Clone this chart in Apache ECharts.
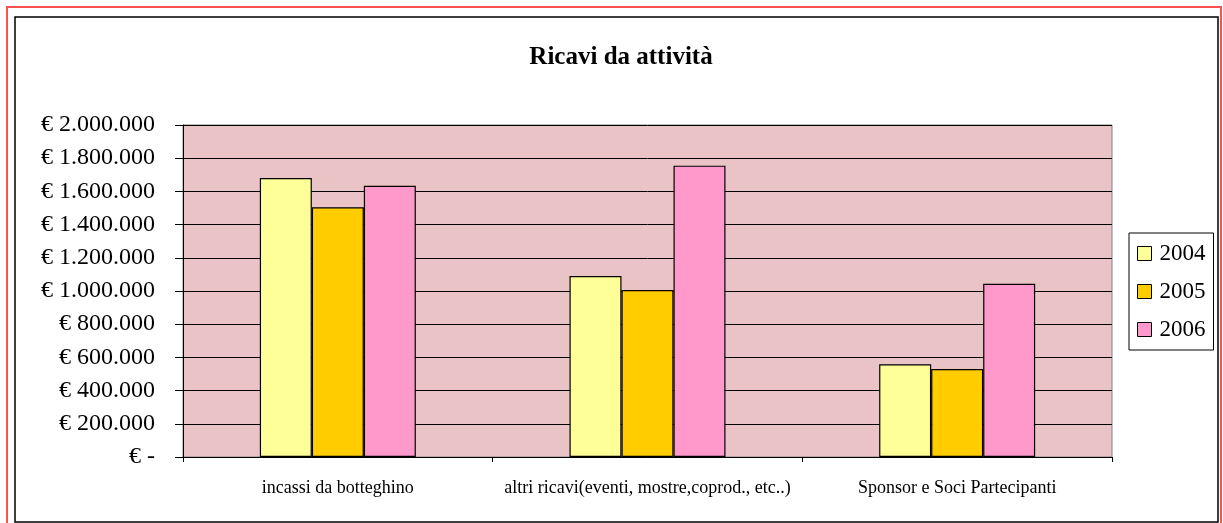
<!DOCTYPE html>
<html>
<head>
<meta charset="utf-8">
<script src="https://cdn.jsdelivr.net/npm/echarts@6/dist/echarts.min.js"></script>
<style>
  html, body { margin: 0; padding: 0; background: #fff; }
  #chart { width: 1223px; height: 523px; }
</style>
</head>
<body>
<div id="chart"></div>
<script>
const categories = ['incassi da botteghino', 'altri ricavi(eventi, mostre,coprod., etc..)', 'Sponsor e Soci Partecipanti']
const years = ['2004', '2005', '2006']
const values2004 = [1680000, 1090000, 558000]
const values2005 = [1504000, 1006000, 530000]
const values2006 = [1634000, 1755000, 1044000]
const yMax = 2000000
const yStep = 200000

const seriesData = [values2004, values2005, values2006]
const colors = ['#ffff99', '#ffcc00', '#ff99cc']
const fontFamily = '"Liberation Serif", "DejaVu Serif", serif'

const formatEuro = (v) => {
  if (v === 0) return '€ -'
  return '€ ' + String(v).replace(/\B(?=(\d{3})+(?!\d))/g, '.')
}

const chart = echarts.init(document.getElementById('chart'))

const option = {
  animation: false,
  backgroundColor: '#ffffff',
  textStyle: { fontFamily: fontFamily, color: '#000' },
  title: {
    text: 'Ricavi da attività',
    left: 616,
    top: 40,
    textAlign: 'center',
    textStyle: { fontFamily: fontFamily, fontSize: 25, fontWeight: 'bold', color: '#000' }
  },
  graphic: [
    {
      type: 'rect',
      shape: { x: 7, y: 7, width: 1214, height: 530 },
      style: { fill: 'none', stroke: '#ff5050', lineWidth: 2 },
      silent: true
    },
    {
      type: 'rect',
      shape: { x: 15, y: 17, width: 1203, height: 505 },
      style: { fill: 'none', stroke: '#000', lineWidth: 1.5 },
      silent: true
    }
  ],
  legend: {
    data: years,
    orient: 'vertical',
    left: 1129,
    top: 233,
    width: 84,
    height: 114,
    padding: [9, 8, 9, 8],
    itemGap: 15,
    itemWidth: 14,
    itemHeight: 14,
    icon: 'rect',
    borderColor: '#000',
    borderWidth: 1,
    backgroundColor: '#fff',
    itemStyle: { borderColor: '#000', borderWidth: 1 },
    textStyle: { fontFamily: fontFamily, fontSize: 23, color: '#000', lineHeight: 22, padding: [0, 0, 0, 3] }
  },
  grid: {
    left: 183,
    right: 111,
    top: 125,
    bottom: 66,
    show: true,
    backgroundColor: '#e9c3c6',
    borderColor: '#808080',
    borderWidth: 1
  },
  xAxis: {
    type: 'category',
    data: categories,
    axisLine: { show: true, lineStyle: { color: '#000', width: 1 } },
    axisTick: { show: true, length: 5, lineStyle: { color: '#000' } },
    axisLabel: { interval: 0, margin: 22, fontFamily: fontFamily, fontSize: 18, color: '#000' },
    splitLine: { show: false }
  },
  yAxis: {
    type: 'value',
    min: 0,
    max: yMax,
    interval: yStep,
    axisLine: { show: true, lineStyle: { color: '#000', width: 1 } },
    axisTick: { show: true, length: 8, lineStyle: { color: '#000' } },
    axisLabel: { margin: 28, fontFamily: fontFamily, fontSize: 24, color: '#000', formatter: formatEuro },
    splitLine: { show: true, lineStyle: { color: '#000', width: 1 } }
  },
  series: years.map((y, i) => ({
    name: y,
    type: 'bar',
    data: seriesData[i],
    barWidth: 52,
    barGap: '0%',
    itemStyle: { color: colors[i], borderColor: '#000', borderWidth: 1.2 }
  }))
}

chart.setOption(option)
</script>
</body>
</html>
